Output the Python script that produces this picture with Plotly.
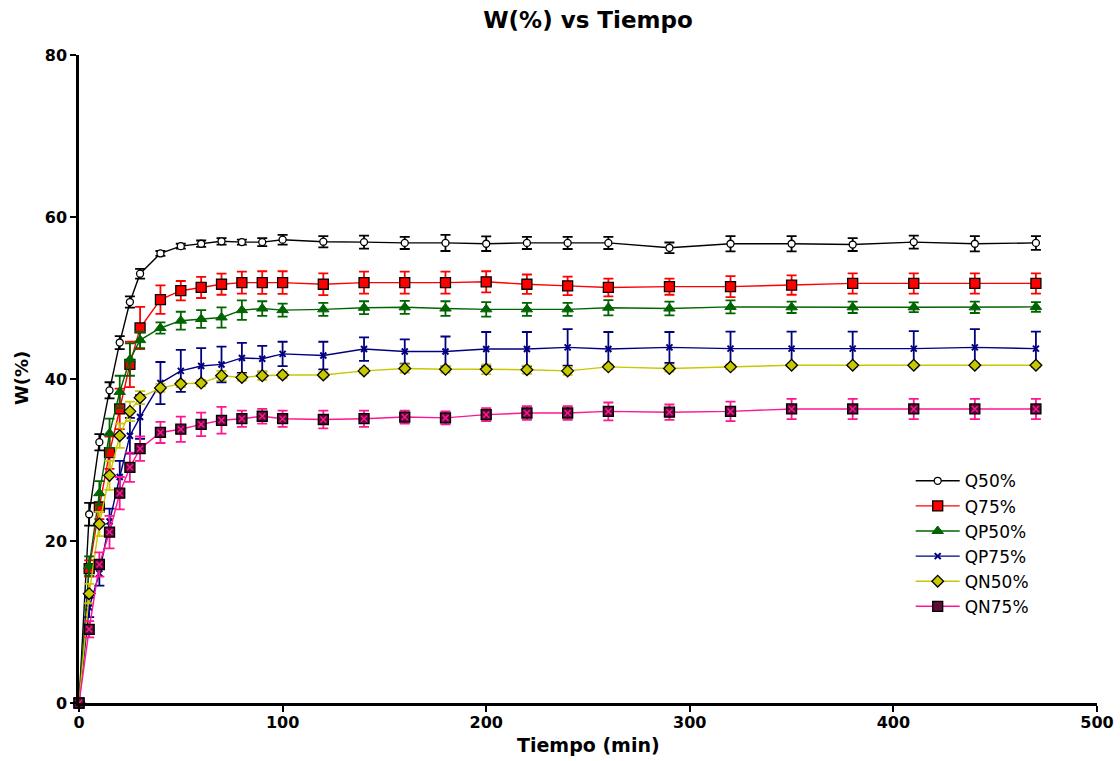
import plotly.graph_objects as go

tiempo = [0, 5, 10, 15, 20, 25, 30, 40, 50, 60, 70, 80, 90, 100, 120, 140, 160, 180,
          200, 220, 240, 260, 290, 320, 350, 380, 410, 440, 470]

q50 = [0, 23.3, 32.2, 38.6, 44.5, 49.5, 53.0, 55.5, 56.4, 56.7, 57.0, 56.9, 56.9, 57.2, 56.95,
       56.9, 56.8, 56.8, 56.7, 56.8, 56.8, 56.8, 56.2, 56.7, 56.7, 56.6, 56.9, 56.7, 56.8]
q50_err = [0, 1.4, 1.0, 1.0, 0.8, 0.7, 0.6, 0.3, 0.3, 0.4, 0.4, 0.3, 0.5, 0.6, 0.7,
           0.8, 0.75, 1.0, 0.9, 0.75, 0.75, 0.75, 0.65, 0.95, 0.95, 0.8, 0.8, 0.95, 0.85]

q75 = [0, 16.6, 24.2, 30.9, 36.3, 41.8, 46.3, 49.8, 50.9, 51.3, 51.7, 51.9, 51.9, 51.9, 51.7,
       51.9, 51.9, 51.9, 52.0, 51.7, 51.5, 51.3, 51.4, 51.4, 51.6, 51.8, 51.8, 51.8, 51.8]
q75_err = [0, 1.0, 1.5, 2.0, 2.5, 2.8, 2.6, 1.75, 1.2, 1.3, 1.3, 1.35, 1.4, 1.4, 1.35,
           1.35, 1.35, 1.35, 1.3, 1.2, 1.15, 1.1, 1.0, 1.3, 1.2, 1.25, 1.25, 1.25, 1.25]

qp50 = [0, 16.9, 25.9, 33.3, 38.4, 42.4, 44.8, 46.3, 47.2, 47.4, 47.6, 48.5, 48.7, 48.5, 48.6,
        48.8, 48.85, 48.7, 48.6, 48.6, 48.6, 48.8, 48.7, 48.9, 48.85, 48.85, 48.85, 48.85, 48.9]
qp50_err = [0, 1.2, 1.5, 1.8, 2.0, 2.0, 1.0, 0.7, 1.1, 1.1, 1.25, 1.2, 0.9, 0.8, 0.8,
            0.8, 0.8, 0.9, 0.9, 0.8, 0.8, 0.95, 0.85, 0.8, 0.7, 0.7, 0.6, 0.7, 0.6]

qp75 = [0, 11.8, 16.0, 22.4, 27.9, 33.0, 35.3, 39.5, 41.0, 41.6, 41.8, 42.6, 42.5, 43.1, 42.9,
        43.7, 43.4, 43.4, 43.7, 43.7, 43.9, 43.7, 43.9, 43.75, 43.75, 43.75, 43.75, 43.9, 43.75]
qp75_err = [0, 1.2, 1.5, 1.6, 2.0, 2.2, 2.7, 2.6, 2.6, 2.2, 2.2, 1.85, 1.6, 1.5, 1.7,
            1.45, 1.5, 1.85, 2.1, 2.1, 2.25, 2.1, 1.9, 2.1, 2.1, 2.1, 2.15, 2.25, 2.1]

qn50 = [0, 13.5, 22.1, 28.1, 33.0, 36.0, 37.7, 38.9, 39.4, 39.5, 40.4, 40.2, 40.4, 40.5, 40.5,
        41.0, 41.3, 41.2, 41.2, 41.15, 41.0, 41.5, 41.3, 41.5, 41.7, 41.7, 41.7, 41.7, 41.7]
qn50_err = [0, 1.2, 1.5, 1.8, 1.5, 1.2, 0.8, 0.5, 0.4, 0.4, 0.6, 0.4, 0.5, 0.4, 0.3,
            0.3, 0.5, 0.4, 0.6, 0.5, 0.5, 0.3, 0.4, 0.3, 0.2, 0.2, 0.2, 0.2, 0.2]

qn75 = [0, 9.1, 17.1, 21.1, 25.9, 29.1, 31.4, 33.4, 33.8, 34.4, 34.9, 35.1, 35.4, 35.1, 35.0,
        35.1, 35.3, 35.2, 35.6, 35.8, 35.8, 36.0, 35.9, 36.0, 36.3, 36.3, 36.3, 36.3, 36.3]
qn75_err = [0, 1.0, 1.5, 2.0, 2.0, 1.8, 1.5, 1.3, 1.55, 1.45, 1.65, 1.0, 0.9, 1.0, 1.1,
            1.0, 0.8, 0.8, 0.8, 0.85, 0.85, 1.1, 0.95, 1.2, 1.25, 1.25, 1.25, 1.25, 1.25]

x_ticks = [0, 100, 200, 300, 400, 500]
y_ticks = [0, 20, 40, 60, 80]

FONT = "DejaVu Sans"

series = [
    ("Q50%", q50, q50_err, "#000000", dict(symbol="circle", size=7, color="white",
                                            line=dict(color="#000000", width=1.3))),
    ("Q75%", q75, q75_err, "#ff0000", dict(symbol="square", size=10, color="#ff0000",
                                            line=dict(color="#000000", width=1.3))),
    ("QP50%", qp50, qp50_err, "#006400", dict(symbol="triangle-up", size=10, color="#006400",
                                               line=dict(color="#006400", width=1))),
    ("QP75%", qp75, qp75_err, "#000080", dict(symbol="x-thin", size=6, color="#000080",
                                               line=dict(color="#000080", width=2))),
    ("QN50%", qn50, qn50_err, "#c8c800", dict(symbol="diamond", size=9, color="#c8c800",
                                               line=dict(color="#000000", width=1.3))),
    ("QN75%", qn75, qn75_err, "#ff1493", dict(symbol="square", size=10, color="#5c0c36",
                                               line=dict(color="#000000", width=1.3))),
]

fig = go.Figure()
for name, vals, err, col, mk in series:
    fig.add_trace(go.Scatter(
        x=tiempo, y=vals, name=name, mode="lines+markers",
        line=dict(color=col, width=1.4),
        marker=mk,
        error_y=dict(type="data", array=err, visible=True, color=col, thickness=1.8, width=5),
        cliponaxis=False,
    ))

# pink cross inside QN75 markers
fig.add_trace(go.Scatter(
    x=tiempo, y=qn75, mode="markers", showlegend=False, hoverinfo="skip",
    marker=dict(symbol="x-thin", size=6, color="#ff1493", line=dict(color="#ff1493", width=1.5)),
    cliponaxis=False,
))

axis_common = dict(
    showline=True, linecolor="black", linewidth=2.5, ticks="outside", ticklen=6,
    tickwidth=2, tickcolor="black", showgrid=False, zeroline=False, automargin=False,
    tickfont=dict(family=FONT, size=16, color="black", weight="bold"),
)

fig.update_layout(
    width=1120, height=761,
    margin=dict(l=79, r=23, t=55, b=58, autoexpand=False),
    paper_bgcolor="white", plot_bgcolor="white",
    title=dict(text="<b>W(%) vs Tiempo</b>", x=0.525, xanchor="center",
               y=1 - 20 / 761, yanchor="middle", yref="container",
               font=dict(family=FONT, size=23, color="black")),
    xaxis=dict(range=[0, 500], tickvals=x_ticks, ticklabelstandoff=-3, **axis_common),
    yaxis=dict(range=[0, 80], tickvals=y_ticks, **axis_common),
    legend=dict(x=0.817, y=0.37, xanchor="left", yanchor="top",
                font=dict(family=FONT, size=17, color="black"),
                bgcolor="rgba(0,0,0,0)", itemwidth=44, tracegroupgap=0),
    showlegend=True,
    annotations=[
        dict(text="<b>Tiempo (min)</b>", xref="paper", yref="paper",
             x=(588 - 79) / 1018, y=-(745 - 703) / 648, xanchor="center", yanchor="middle",
             showarrow=False, font=dict(family=FONT, size=19, color="black")),
        dict(text="<b>W(%)</b>", xref="paper", yref="paper",
             x=-(79 - 21) / 1018, y=(703 - 378) / 648, xanchor="center", yanchor="middle",
             textangle=-90, showarrow=False, font=dict(family=FONT, size=18, color="black")),
    ],
)

fig.write_html("out.html")
